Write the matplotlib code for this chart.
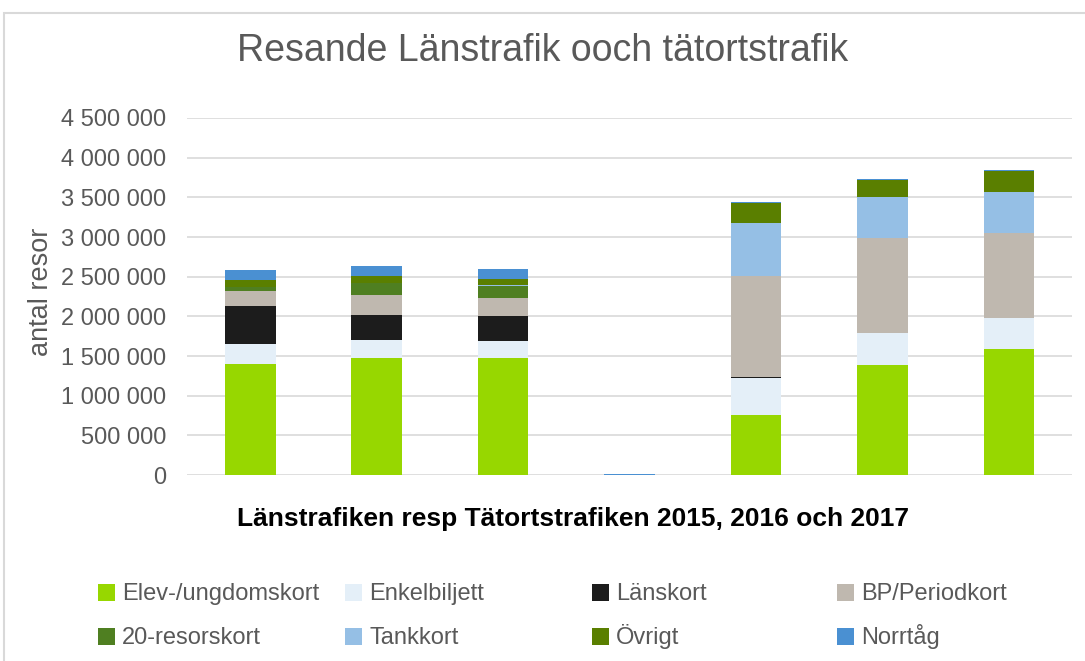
import matplotlib
matplotlib.use("Agg")
import matplotlib.pyplot as plt
from matplotlib.patches import Rectangle
from matplotlib.ticker import FuncFormatter, MultipleLocator
import numpy as np

plt.rcParams['font.family'] = ['Liberation Sans', 'DejaVu Sans']

# Länstrafiken 2015-2017, empty gap, Tätortstrafiken 2015-2017
categories = ["L 2015", "L 2016", "L 2017", "", "T 2015", "T 2016", "T 2017"]

series = ["Elev-/ungdomskort", "Enkelbiljett", "Länskort", "BP/Periodkort",
          "20-resorskort", "Tankkort", "Övrigt", "Norrtåg"]

elev = [1400000, 1475000, 1475000, 0, 756000, 1386000, 1588000]
enkel = [252000, 226000, 214000, 0, 463000, 404000, 391000]
lanskort = [479000, 316000, 315000, 0, 15000, 0, 0]
bp = [189000, 252000, 227000, 0, 1274000, 1201000, 1067000]
tjugo = [54000, 147000, 151000, 0, 0, 0, 0]
tankkort = [0, 0, 10000, 0, 668000, 513000, 521000]
ovrigt = [85000, 92000, 80000, 0, 248000, 214000, 261000]
norrtag = [126000, 126000, 126000, 8000, 16000, 13000, 17000]

colors = ["#97D700", "#E4EFF8", "#1C1C1C", "#BFB8AF",
          "#4F7F21", "#95BFE5", "#5A7F00", "#4A90D2"]

data = [elev, enkel, lanskort, bp, tjugo, tankkort, ovrigt, norrtag]

W, H = 1085, 661
fig = plt.figure(figsize=(W / 100, H / 100), dpi=100)
ax = fig.add_axes([187 / W, 1 - 475 / H, (1072 - 187) / W, (475 - 118) / H])

# outer chart frame (cut off on the right and bottom)
fig.patches.append(Rectangle((4 / W, -0.1), 1.2, 1.1 - 13 / H, transform=fig.transFigure,
                             fill=False, edgecolor="#d9d9d9", linewidth=1.5))

x = np.arange(len(categories))
bottom = np.zeros(len(categories))
for name, vals, col in zip(series, data, colors):
    ax.bar(x, vals, width=0.4, bottom=bottom, color=col, label=name, zorder=3)
    bottom += np.array(vals)

ax.set_xlim(-0.5, len(categories) - 0.5)
ax.set_ylim(0, 4500000)
ax.yaxis.set_major_locator(MultipleLocator(500000))
ax.yaxis.set_major_formatter(FuncFormatter(lambda v, p: f"{v:,.0f}".replace(",", " ")))
ax.set_xticks([])
ax.tick_params(axis="y", length=0, pad=15, labelsize=17, labelcolor="#595959")
ax.grid(axis="y", color="#d9d9d9", linewidth=1.2, zorder=0)
for s in ax.spines.values():
    s.set_visible(False)

ax.set_ylabel("antal resor", fontsize=19.5, color="#595959")
ax.yaxis.set_label_coords((54 - 187) / (1072 - 187), 0.514)

fig.text(0.5, 1 - 51 / H, "Resande Länstrafik ooch tätortstrafik", ha="center", va="center",
         fontsize=27, color="#595959")
fig.text(573 / W, 1 - 519 / H, "Länstrafiken resp Tätortstrafiken 2015, 2016 och 2017",
         ha="center", va="center", fontsize=19, fontweight="bold", color="black")

# legend: four evenly spaced columns, two rows (drawn by hand like Excel does)
col_x = [98, 345, 592, 837]
row_y = [592.5, 636.5]
for i, (name, col) in enumerate(zip(series, colors)):
    cx = col_x[i % 4]
    cy = row_y[i // 4]
    fig.patches.append(Rectangle((cx / W, 1 - (cy + 8.5) / H), 17 / W, 17 / H,
                                 transform=fig.transFigure, facecolor=col, edgecolor="none"))
    fig.text((cx + 24) / W, 1 - (cy + 7.5) / H, name, ha="left", va="baseline",
             fontsize=17, color="#595959")

fig.savefig("out.png", dpi=100, facecolor="white")
